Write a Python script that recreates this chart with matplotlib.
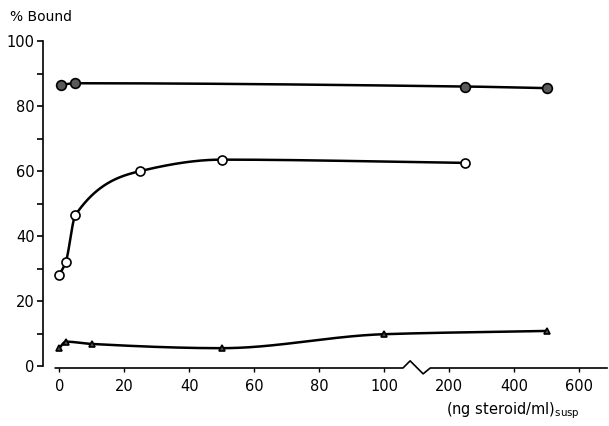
import numpy as np
import matplotlib
matplotlib.use("Agg")
import matplotlib.pyplot as plt

# steroid concentration (ng/ml) and % bound for the three preparations
x_top = [0.5, 5, 250, 500]
y_top = [86.5, 87.0, 86.0, 85.5]

x_mid = [0, 2, 5, 25, 50, 250]
y_mid = [28.0, 32.0, 46.5, 60.0, 63.5, 62.5]

x_low = [0, 2, 10, 50, 100, 500]
y_low = [5.5, 7.5, 6.8, 5.5, 9.8, 10.8]

x_ticks = [0, 20, 40, 60, 80, 100, 200, 400, 600]
y_ticks = [0, 20, 40, 60, 80, 100]


# broken axis: 0-100 linear, then 200-600 compressed ten-fold
def fwd(x):
    x = np.asarray(x, dtype=float)
    return np.where(x <= 100, x, np.where(x >= 200, 120 + (x - 200) * 0.1,
                                          100 + (x - 100) * 0.2))


def inv(u):
    u = np.asarray(u, dtype=float)
    return np.where(u <= 100, u, np.where(u >= 120, 200 + (u - 120) * 10,
                                          100 + (u - 100) * 5))


def pchip(x, y, xs):
    # monotone cubic Hermite (Fritsch-Carlson)
    x = np.asarray(x, float); y = np.asarray(y, float)
    h = np.diff(x); d = np.diff(y) / h
    m = np.zeros_like(y)
    for k in range(1, len(x) - 1):
        if d[k - 1] * d[k] > 0:
            w1 = 2 * h[k] + h[k - 1]; w2 = h[k] + 2 * h[k - 1]
            m[k] = (w1 + w2) / (w1 / d[k - 1] + w2 / d[k])
    m[0] = d[0]; m[-1] = d[-1]
    out = np.empty_like(xs)
    for i, xv in enumerate(xs):
        k = min(max(np.searchsorted(x, xv) - 1, 0), len(x) - 2)
        t = (xv - x[k]) / h[k]
        h00 = 2*t**3 - 3*t**2 + 1; h10 = t**3 - 2*t**2 + t
        h01 = -2*t**3 + 3*t**2; h11 = t**3 - t**2
        out[i] = h00*y[k] + h10*h[k]*m[k] + h01*y[k+1] + h11*h[k]*m[k+1]
    return out


def smooth(xd, yd):
    u = fwd(xd)
    us = np.linspace(u[0], u[-1], 400)
    return inv(us), pchip(u, yd, us)


plt.rcParams['font.family'] = ['DejaVu Sans']
fig = plt.figure(figsize=(6.09, 4.26), dpi=100)
ax = fig.add_axes([43 / 609, 58 / 426, 564 / 609, 327 / 426])
ax.set_xscale('function', functions=(fwd, inv))
ax.set_xlim(inv(-5.0), inv(168.6))
ax.set_ylim(-0.6, 100)

for xd, yd, mk, fc, ms in [(x_top, y_top, 'o', '0.35', 7),
                           (x_mid, y_mid, 'o', 'white', 6.5),
                           (x_low, y_low, '^', '0.3', 5)]:
    xs, ys = smooth(xd, yd)
    ax.plot(xs, ys, color='black', lw=1.8, zorder=2)
    ax.plot(xd, yd, ls='none', marker=mk, ms=ms, mfc=fc, mec='black',
            mew=1.2, zorder=3)

# axes
for s in ['top', 'right', 'bottom']:
    ax.spines[s].set_visible(False)
ax.spines['left'].set_bounds(0, 100)
ax.spines['left'].set_linewidth(1.2)

# x axis line with a break mark between 100 and 200
bx = [inv(-1.2), 129, 140, 160, 171, inv(168.6)]
by = [-0.6, -0.6, 1.6, -2.4, -0.6, -0.6]
ax.plot(bx, by, color='black', lw=1.2, clip_on=False)

ax.set_xticks(x_ticks)
ax.set_xticklabels([str(v) for v in x_ticks])
ax.set_yticks(y_ticks)
ax.set_yticks([10, 30, 50, 70, 90], minor=True)
ax.set_xticks([], minor=True)
ax.tick_params(axis='x', direction='out', length=3, width=1, pad=5,
               labelsize=10.5)
ax.tick_params(axis='y', which='both', direction='out', length=4.5, width=1.2,
               pad=1.5, labelsize=10.5)

fig.text(10 / 609, 1 - 17 / 426, '% Bound', fontsize=10, va='center',
         ha='left')
fig.text(446 / 609, 1 - 411 / 426, r'(ng steroid/ml)$_{\mathrm{susp}}$',
         fontsize=10.5, va='center', ha='left')

fig.savefig('out.png', dpi=100)
